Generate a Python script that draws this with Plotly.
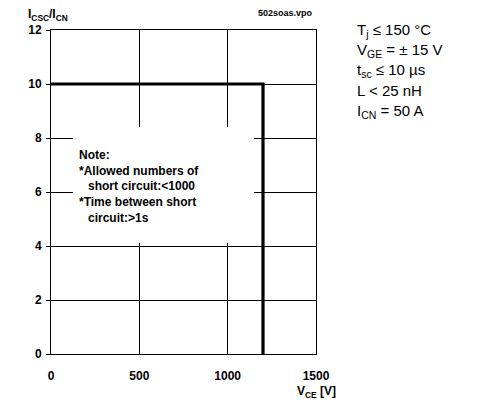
import plotly.graph_objects as go

# Data
soa_v = [0, 1200, 1200]          # V_CE [V]
soa_i = [10, 10, 0]              # I_CSC / I_CN
x_ticks = [0, 500, 1000, 1500]
y_ticks = [0, 2, 4, 6, 8, 10, 12]
note_lines = ["Note:", "*Allowed numbers of", "short circuit:<1000",
              "*Time between short", "circuit:>1s"]
cond_lines = ["T<sub>j</sub> ≤ 150 °C", "V<sub>GE</sub> = ± 15 V",
              "t<sub>sc</sub> ≤ 10 µs", "L < 25 nH", "I<sub>CN</sub> = 50 A"]

OFF = 8  # page body margin
W, H = 489 - OFF, 402 - OFF
# plot area in window pixels: x 51..316, y 30..354
L, R, T, B = 51 - OFF, 489 - 316, 30 - OFF, 402 - 354
PW, PH = W - L - R, H - T - B

def px(x):
    return (x - OFF - L) / PW

def py(y):
    return (H - B - (y - OFF)) / PH

FONT = "Liberation Sans"

fig = go.Figure()
fig.add_trace(go.Scatter(x=soa_v, y=soa_i, mode="lines",
                         line=dict(color="black", width=3.2),
                         hoverinfo="skip", showlegend=False))

# note box hiding the grid
fig.add_shape(type="rect", xref="paper", yref="paper",
              x0=px(73), x1=px(254), y0=py(243), y1=py(127),
              fillcolor="white", line=dict(width=0), layer="above")

annotations = []
note_x = [77, 77, 86, 77, 86]
note_y = [155, 171, 186, 202, 218]
for txt, xx, yy in zip(note_lines, note_x, note_y):
    annotations.append(dict(text=txt, xref="paper", yref="paper",
                            x=px(xx), y=py(yy), xanchor="left", yanchor="middle",
                            showarrow=False,
                            font=dict(family=FONT, size=12, color="black", weight="bold")))

for i, txt in enumerate(cond_lines):
    annotations.append(dict(text=txt, xref="paper", yref="paper",
                            x=px(355), y=py(30 + 20.3 * i), xanchor="left", yanchor="middle",
                            showarrow=False,
                            font=dict(family=FONT, size=15, color="black")))

annotations.append(dict(text="I<sub>CSC</sub>/I<sub>CN</sub>", xref="paper", yref="paper",
                        x=px(26), y=py(15), xanchor="left", yanchor="middle", showarrow=False,
                        font=dict(family=FONT, size=12, color="black", weight="bold")))
annotations.append(dict(text="502soas.vpo", xref="paper", yref="paper",
                        x=px(315), y=py(13), xanchor="right", yanchor="middle", showarrow=False,
                        font=dict(family=FONT, size=9, color="black", weight="bold")))
annotations.append(dict(text="V<sub>CE</sub> [V]", xref="paper", yref="paper",
                        x=px(338), y=py(392), xanchor="right", yanchor="middle", showarrow=False,
                        font=dict(family=FONT, size=12, color="black", weight="bold")))

tickfont = dict(family=FONT, size=12, color="black", weight="bold")
fig.update_layout(
    width=W, height=H, margin=dict(l=L, r=R, t=T, b=B),
    paper_bgcolor="white", plot_bgcolor="white",
    showlegend=False, annotations=annotations,
    xaxis=dict(range=[0, 1500], tickvals=x_ticks, ticktext=[str(v) for v in x_ticks],
               showgrid=True, gridcolor="black", gridwidth=1, zeroline=False,
               showline=True, linecolor="black", linewidth=1, mirror=True,
               ticks="", ticklabelstandoff=11, tickfont=tickfont, fixedrange=True,
               automargin=False),
    yaxis=dict(range=[0, 12], tickvals=y_ticks, ticktext=[str(v) for v in y_ticks],
               showgrid=True, gridcolor="black", gridwidth=1, zeroline=False,
               showline=True, linecolor="black", linewidth=1, mirror=True,
               ticks="outside", ticklen=4, tickcolor="black", ticklabelstandoff=2,
               tickfont=tickfont, fixedrange=True, automargin=False),
)

fig.write_html("out.html", config={"displayModeBar": False})
